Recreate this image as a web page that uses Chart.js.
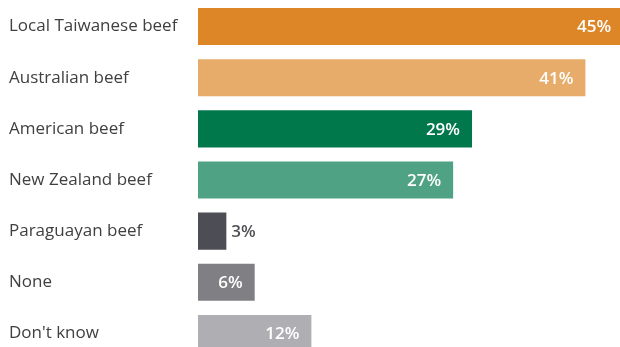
<!DOCTYPE html>
<html>
<head>
<meta charset="utf-8">
<script src="https://cdn.jsdelivr.net/npm/chart.js@4"></script>
<style>
html,body{margin:0;padding:0;background:#fff;overflow:hidden;}
#wrap{width:620px;height:347px;overflow:hidden;}
canvas{display:block;}
</style>
</head>
<body>
<div id="wrap"><canvas id="c" width="620" height="359"></canvas></div>
<script>
const categories = ["Local Taiwanese beef", "Australian beef", "American beef", "New Zealand beef", "Paraguayan beef", "None", "Don't know"];
const values = [45, 41, 29, 27, 3, 6, 12];
const barColors = ["#DC8628", "#E8AC6A", "#00784C", "#4FA283", "#4D4D55", "#808084", "#AFAFB3"];

const valueLabels = {
  id: 'valueLabels',
  afterDatasetsDraw(chart) {
    const ctx = chart.ctx;
    const meta = chart.getDatasetMeta(0);
    ctx.save();
    ctx.font = "600 17px 'Open Sans', sans-serif";
    ctx.textBaseline = 'middle';
    meta.data.forEach((bar, i) => {
      const v = values[i];
      const txt = v + '%';
      const end = Math.min(bar.x, chart.chartArea.right + 5);
      const w = ctx.measureText(txt).width;
      if (end - bar.base > w + 20) {
        ctx.fillStyle = '#ffffff';
        ctx.textAlign = 'right';
        ctx.fillText(txt, end - 12, bar.y + 1);
      } else {
        ctx.fillStyle = '#505055';
        ctx.textAlign = 'left';
        ctx.fillText(txt, bar.x + 5, bar.y + 1);
      }
    });
    ctx.restore();
  }
};

new Chart(document.getElementById('c'), {
  type: 'bar',
  data: {
    labels: categories,
    datasets: [{
      data: values,
      backgroundColor: barColors,
      borderWidth: 0,
      barPercentage: 0.725,
      categoryPercentage: 1.0
    }]
  },
  options: {
    indexAxis: 'y',
    responsive: false,
    animation: false,
    devicePixelRatio: 1,
    layout: { padding: { left: 9, top: 1, right: 0, bottom: 0 } },
    plugins: { legend: { display: false }, tooltip: { enabled: false } },
    scales: {
      x: { display: false, min: 0, max: 44.66 },
      y: {
        grid: { display: false, drawTicks: false },
        border: { display: false },
        ticks: {
          crossAlign: 'far',
          color: '#404040',
          font: { family: "'Open Sans', sans-serif", size: 17 },
          padding: 0
        },
        afterFit(axis) { axis.width = 189; axis.paddingTop = 0; axis.paddingBottom = 0; }
      }
    }
  },
  plugins: [valueLabels]
});
</script>
</body>
</html>
